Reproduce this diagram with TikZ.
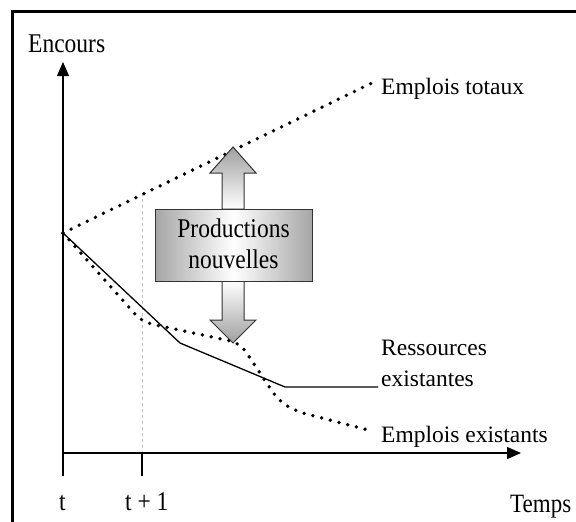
\documentclass[tikz,border=0pt]{standalone}
\usepackage{fontspec}
\setmainfont{Liberation Serif}
\usetikzlibrary{arrows.meta}
\newcommand{\tall}[1]{\scalebox{1}[1.15]{#1}}
\begin{document}
\begin{tikzpicture}[x=1pt,y=-1pt,
  lbl/.style={anchor=base west,inner sep=0pt,font=\fontsize{23.5}{26}\selectfont},
  axis/.style={line width=1.4pt,-{Triangle[length=14pt,width=12pt]}},
  dotline/.style={line width=3.8pt,line cap=round,dash pattern=on 0pt off 9pt},
  solidline/.style={line width=1.3pt},
  bigarrow/.style={draw=black!80,line width=1pt}]
\useasboundingbox (0,0) rectangle (576,522);
\fill[white] (0,0) rectangle (576,522);
% frame
\draw[line width=3pt] (578,11) -- (12,11) -- (12,524);
% coordinates
\coordinate (o) at (63,233);
\coordinate (ybot) at (63,476);
\coordinate (ytop) at (63,62);
\coordinate (xl) at (63,453);
\coordinate (xr) at (521,453);
\coordinate (t1a) at (142,453);
\coordinate (t1b) at (142,476);
\coordinate (t1c) at (142,193);
% guide line
\draw[gray!50,line width=0.6pt,dashed] (t1c) -- (t1a);
% axes
\draw[axis] (ybot) -- (ytop);
\draw[axis] (xl) -- (xr);
\draw[line width=1.4pt] (t1a) -- (t1b);
% labels
\node[lbl] (enc) at (28,52) {\tall{Encours}};
\node[lbl] (tt) at (59,510) {\tall{t}};
\node[lbl] (tp1) at (125,510) {\tall{t + 1}};
\node[lbl,font=\fontsize{23}{26}\selectfont] (temps) at (510,512) {\tall{Temps}};
\node[lbl] (et) at (381,94) {Emplois totaux};
\node[lbl] (res1) at (381,355) {Ressources};
\node[lbl] (res2) at (381,386) {existantes};
\node[lbl] (ee) at (381,442) {Emplois existants};
% curves
\coordinate (etend) at (376,81);
\coordinate (resend) at (378,387);
\coordinate (eeend) at (372,431);
\draw[dotline] (o) -- (etend);
\draw[solidline] (o) -- (180,343) -- (285,387) -- (resend);
\draw[dotline,rounded corners=10pt] (o) -- (142,322) -- (240,343) -- (278,400) -- (295,411) -- (eeend);
% double arrow
\draw[bigarrow,top color=gray!75,bottom color=white]
  (222,209) -- (222,173) -- (210,173) -- (233,147) -- (256,173) -- (244,173) -- (244,209) -- cycle;
\draw[bigarrow,top color=white,bottom color=gray!75]
  (222,281) -- (222,320) -- (210,320) -- (233,343) -- (256,320) -- (244,320) -- (244,281) -- cycle;
\draw[bigarrow,left color=gray!70,right color=gray!70,middle color=white]
  (155,209) rectangle (312,281);
\node[anchor=base,inner sep=0pt,font=\fontsize{23.5}{26}\selectfont] (prod) at (233.5,237) {\tall{Productions}};
\node[anchor=base,inner sep=0pt,font=\fontsize{23.5}{26}\selectfont] (nouv) at (233.5,268) {\tall{nouvelles}};
\end{tikzpicture}
\end{document}
